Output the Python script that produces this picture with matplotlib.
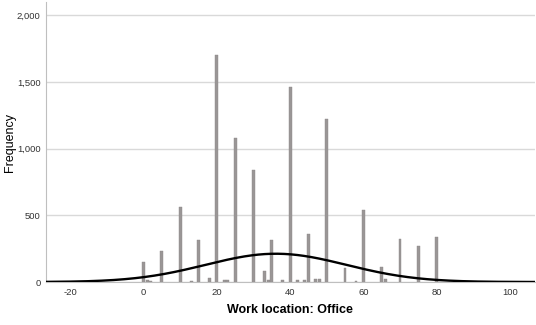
import numpy as np
import matplotlib
matplotlib.use("Agg")
import matplotlib.pyplot as plt

# Frequency of each reported share of office work (%)
office_pct = [0, 1, 2, 5, 10, 13, 15, 18, 20, 22, 23, 25, 30, 33, 34, 35, 38,
              40, 42, 44, 45, 47, 48, 50, 55, 58, 60, 65, 66, 70, 75, 80]
frequency = [150, 18, 8, 230, 565, 6, 315, 30, 1705, 15, 15, 1078, 839, 82, 15, 317, 15,
             1463, 15, 12, 357, 20, 20, 1221, 102, 6, 539, 110, 25, 322, 270, 335]

x_ticks = [-20, 0, 20, 40, 60, 80, 100]
y_ticks = [0, 500, 1000, 1500, 2000]
y_tick_labels = ["0", "500", "1,000", "1,500", "2,000"]

plt.rcParams['font.family'] = ['Liberation Sans', 'DejaVu Sans']

fig = plt.figure(figsize=(5.36, 3.25), dpi=100)
ax = fig.add_axes([0.0858, 0.1323, 0.912, 0.8615])

vals = np.array(office_pct, dtype=float)
freq = np.array(frequency, dtype=float)
n = freq.sum()
mean = (vals * freq).sum() / n
std = np.sqrt(((vals - mean) ** 2 * freq).sum() / (n - 1))

ax.set_axisbelow(True)
ax.grid(axis='y', color='#d9d9d9', linewidth=1.0)
ax.bar(vals, freq, width=0.8, color='#9a9696', edgecolor='#8c8888', linewidth=0.3, zorder=2)

# Normal curve scaled to the counts (bin width 1)
xs = np.linspace(-26.6, 106.8, 600)
pdf = n * 1.0 / (std * np.sqrt(2 * np.pi)) * np.exp(-0.5 * ((xs - mean) / std) ** 2)
ax.plot(xs, pdf, color='black', linewidth=1.7, zorder=3)

ax.set_xlim(-26.6, 106.8)
ax.set_ylim(0, 2100)
ax.set_xticks(x_ticks)
ax.set_xticklabels([str(t) for t in x_ticks])
ax.set_yticks(y_ticks)
ax.set_yticklabels(y_tick_labels)
ax.tick_params(axis='both', length=0, labelsize=6.8, labelcolor='#333333')
ax.tick_params(axis='x', pad=4)
ax.tick_params(axis='y', pad=4)

for side in ('top', 'right'):
    ax.spines[side].set_visible(False)
ax.spines['left'].set_color('#bfbfbf')
ax.spines['bottom'].set_color('#bfbfbf')

ax.set_xlabel("Work location: Office", fontsize=9, fontweight='bold', labelpad=5)
ax.set_ylabel("Frequency", fontsize=9)
ax.yaxis.set_label_coords(-0.061, 0.5)

fig.savefig("out.png", dpi=100)
